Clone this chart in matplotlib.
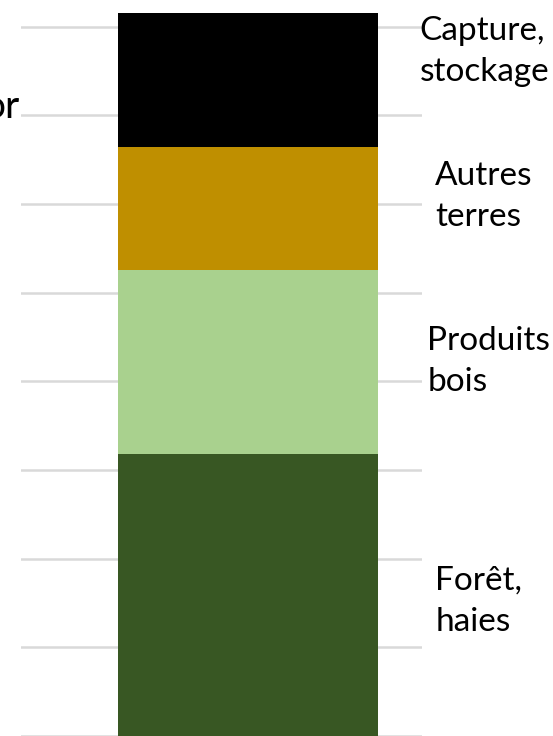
import matplotlib.pyplot as plt

# stacked values (gridline units), bottom to top
segments = ['Forêt,\nhaies', 'Produits\nbois', 'Autres\nterres', 'Capture,\nstockage']
values = [3.18, 2.08, 1.38, 1.51]
colors = ['#385723', '#A9D18E', '#BF8F00', '#000000']
grid_ticks = [0, 1, 2, 3, 4, 5, 6, 7, 8]

# label placement (x offset from bar, y in data units)
label_x = [0.72, 0.69, 0.72, 0.66]
label_y = [1.52, 4.22, 6.08, 7.72]

plt.rcParams['font.family'] = ['Lato', 'DejaVu Sans']

fig = plt.figure(figsize=(5.53, 7.36), dpi=100)
ax = fig.add_axes([21 / 553, 0, 401 / 553, 1])

bottom = 0
for v, c in zip(values, colors):
    ax.bar(0, v, width=1.0, bottom=bottom, color=c, zorder=3)
    bottom += v

for name, x, y in zip(segments, label_x, label_y):
    ax.text(x, y, name, fontsize=24, va='center', ha='left', linespacing=1.45,
            clip_on=False, zorder=4)

ax.set_yticks(grid_ticks)
ax.yaxis.grid(True, color='#d9d9d9', linewidth=1.8, zorder=0)
ax.set_xlim(-0.873, 0.669)
ax.set_ylim(0, 8.3)
ax.tick_params(left=False, bottom=False, labelleft=False, labelbottom=False)
for s in ax.spines.values():
    s.set_visible(False)

# cut-off text at the left edge
fig.text(20 / 553, 1 - 118 / 736, 'or', fontsize=28, ha='right', va='baseline')

fig.savefig('out.png', dpi=100)
